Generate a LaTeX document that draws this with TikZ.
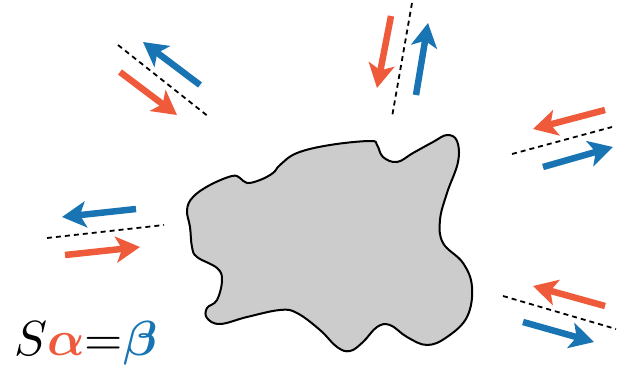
\documentclass[tikz,border=0pt]{standalone}
\usepackage{graphicx}
\usepackage{amsmath,bm}
\usetikzlibrary{arrows.meta}
\definecolor{wred}{RGB}{238,90,58}
\definecolor{wblue}{RGB}{24,116,178}
\tikzset{
  wave/.style={line width=6.5pt,-{Stealth[length=24pt,width=26pt,inset=6pt]}},
  inwave/.style={wave,draw=wred},
  outwave/.style={wave,draw=wblue},
  iface/.style={line width=1.8pt,dash pattern=on 5pt off 4pt},
}
\begin{document}
\begin{tikzpicture}[x=1pt,y=-1pt]
\useasboundingbox (0,0) rectangle (617,370);
% scatterer
\draw[line width=2pt,fill=black!20] plot[smooth cycle,tension=0.65] coordinates {
(447,135) (457,141) (458,162) (447,193) (440,220) (443,243) (463,263) (472,287)
(467,317) (447,337) (427,345) (407,337) (390,325) (377,327) (363,342) (350,351)
(337,347) (320,330) (297,313) (280,310) (247,317) (220,324) (207,318) (207,308)
(217,300) (222,280) (217,268) (197,257) (192,247) (190,227) (187,210) (193,197)
(210,185) (232,176) (240,178) (247,183) (260,180) (273,173) (280,165) (297,153)
(330,145) (370,141) (377,145) (383,157) (397,162) (413,153) (433,142)};
% group 1 top left
\coordinate (d1a) at (118,45); \coordinate (d1b) at (209,117);
\coordinate (b1a) at (200,85); \coordinate (b1b) at (143,42);
\coordinate (r1a) at (120,72); \coordinate (r1b) at (177,115);
\draw[iface] (d1a) -- (d1b);
\draw[outwave] (b1a) -- (b1b);
\draw[inwave] (r1a) -- (r1b);
% group 2 top
\coordinate (d2a) at (412,3); \coordinate (d2b) at (392,117);
\coordinate (r2a) at (391,16); \coordinate (r2b) at (377,88);
\coordinate (b2a) at (416,95); \coordinate (b2b) at (428,23);
\draw[iface] (d2a) -- (d2b);
\draw[inwave] (r2a) -- (r2b);
\draw[outwave] (b2a) -- (b2b);
% group 3 right top
\coordinate (d3a) at (512,154); \coordinate (d3b) at (612,127);
\coordinate (r3a) at (605,110); \coordinate (r3b) at (533,129);
\coordinate (b3a) at (543,167); \coordinate (b3b) at (613,147);
\draw[iface] (d3a) -- (d3b);
\draw[inwave] (r3a) -- (r3b);
\draw[outwave] (b3a) -- (b3b);
% group 4 right bottom
\coordinate (d4a) at (503,296); \coordinate (d4b) at (616,329);
\coordinate (r4a) at (605,306); \coordinate (r4b) at (533,286);
\coordinate (b4a) at (523,322); \coordinate (b4b) at (594,342);
\draw[iface] (d4a) -- (d4b);
\draw[inwave] (r4a) -- (r4b);
\draw[outwave] (b4a) -- (b4b);
% group 5 left
\coordinate (d5a) at (47,238); \coordinate (d5b) at (164,225);
\coordinate (b5a) at (136,209); \coordinate (b5b) at (62,217);
\coordinate (r5a) at (65,255); \coordinate (r5b) at (140,247);
\draw[iface] (d5a) -- (d5b);
\draw[outwave] (b5a) -- (b5b);
\draw[inwave] (r5a) -- (r5b);
% equation
\node[anchor=base west,inner sep=0pt] (eq) at (14,355)
  {\resizebox{143pt}{!}{$S\textcolor{wred}{\bm{\alpha}}\mathord{=}\textcolor{wblue}{\bm{\beta}}$}};
\end{tikzpicture}
\end{document}
